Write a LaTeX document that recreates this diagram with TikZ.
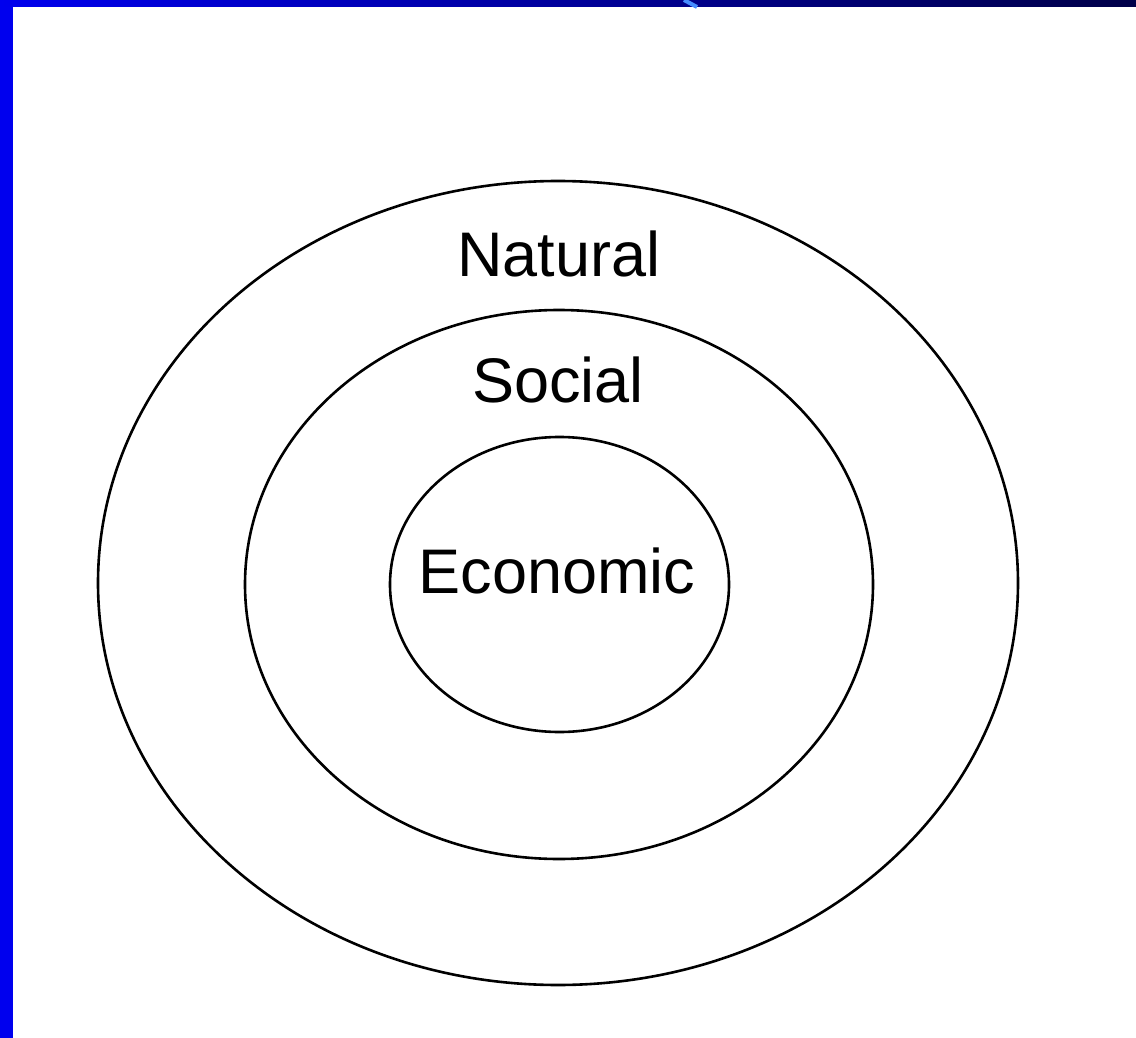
\documentclass[tikz,border=0pt]{standalone}
\usepackage{fontspec}
\setmainfont{Liberation Sans}
\definecolor{barblue}{RGB}{0,0,238}
\definecolor{bardark}{RGB}{0,0,72}
\definecolor{streak}{RGB}{70,140,255}
\begin{document}
\begin{tikzpicture}
  [x=0.5pt, y=-0.5pt]
  \tikzstyle{ring} = [draw=black, line width=1.3pt];
  \tikzstyle{ring_label} = [anchor=base, inner sep=0pt, font=\fontsize{31.5}{38}\selectfont];

  \useasboundingbox (0, 0) rectangle (1136, 1038);
  \fill[white] (0, 0) rectangle (1136, 1038);

  % frame
  \fill[barblue] (0, 0) rectangle (13, 1038);
  \shade[left color=barblue, right color=bardark] (0, 0) rectangle (1136, 7);
  \draw[streak, line width=2pt] (684, 0) -- (697, 7);

  % rings
  \draw[ring] (558, 583) ellipse [x radius=460, y radius=402];
  \draw[ring] (559, 584.5) ellipse [x radius=314, y radius=274.5];
  \draw[ring] (559.5, 584.5) ellipse [x radius=169.5, y radius=147.5];

  \node[ring_label] (natural) at (559, 277) {Natural};
  \node[ring_label] (social) at (558, 402) {Social};
  \node[ring_label] (economic) at (557, 593) {Economic};

\end{tikzpicture}
\end{document}
